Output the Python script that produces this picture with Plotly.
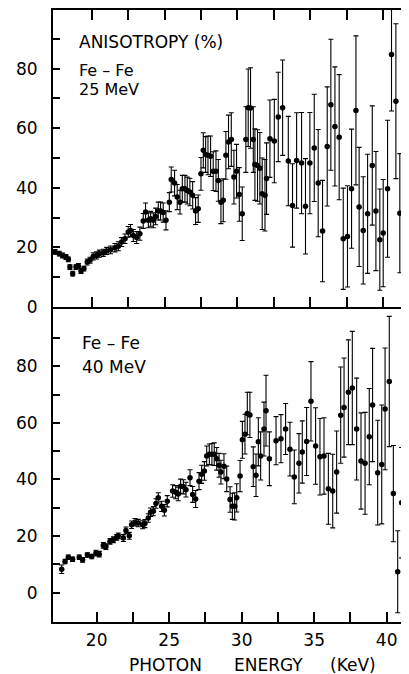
import plotly.graph_objects as go

# Fe-Fe 25 MeV : photon energy (keV), anisotropy (%), error
kev_25 = [17.49, 17.78, 18.01, 18.24, 18.40, 18.51, 18.70, 18.93, 19.09, 19.27,
          19.47, 19.70, 19.89, 20.11, 20.34, 20.53, 20.80, 21.03, 21.30, 21.60,
          21.83, 22.06, 22.29, 22.51, 22.67, 22.86, 23.09, 23.31, 23.54, 23.70,
          23.89, 24.05, 24.23, 24.39, 24.57, 24.73, 24.91, 25.10, 25.33, 25.46,
          25.69, 25.87, 26.06, 26.22, 26.40, 26.56, 26.74, 26.93, 27.13, 27.31,
          27.50, 27.66, 27.82, 27.98, 28.16, 28.34, 28.53, 28.69, 28.87, 29.03,
          29.21, 29.39, 29.58, 29.76, 29.94, 30.13, 30.33, 30.58, 30.74, 30.90,
          31.09, 31.20, 31.38, 31.54, 31.70, 31.89, 32.00, 32.23, 32.53, 32.80,
          33.10, 33.49, 33.78, 34.06, 34.40, 34.67, 34.97, 35.27, 35.54, 35.84,
          36.16, 36.41, 36.69, 36.98, 37.26, 37.55, 37.83, 38.13, 38.35, 38.63,
          38.93, 39.25, 39.50, 39.77, 40.00, 40.30, 40.57, 40.87, 41.14, 41.44,
          41.67]
aniso_25 = [18.5, 17.9, 17.3, 16.8, 16.0, 13.4, 11.2, 13.4, 13.8, 12.1,
            12.9, 15.1, 15.7, 17.0, 17.3, 17.9, 18.2, 18.8, 19.2, 19.9,
            20.4, 21.8, 22.9, 25.2, 25.7, 24.0, 23.3, 24.6, 28.9, 31.9,
            29.1, 29.6, 29.1, 30.4, 32.2, 32.2, 31.7, 29.1, 35.2, 42.8,
            41.6, 36.9, 35.2, 39.7, 39.7, 39.1, 38.6, 37.5, 32.2, 33.0,
            44.7, 52.6, 51.2, 50.9, 50.6, 45.6, 45.6, 42.5, 35.2, 35.8,
            50.9, 55.4, 56.2, 43.6, 45.6, 37.8, 31.3, 56.2, 66.9, 66.8,
            56.2, 47.8, 47.5, 46.6, 38.0, 37.5, 43.1, 56.5, 55.7, 63.8,
            66.9, 49.0, 34.1, 49.2, 48.3, 33.8, 48.3, 53.4, 41.6, 25.5,
            53.9, 67.9, 60.6, 57.0, 22.9, 23.7, 39.7, 66.0, 33.6, 25.7,
            31.3, 47.5, 32.2, 22.6, 24.8, 39.7, 84.8, 69.1, 31.5, 44.5,
            38.3]
err_25 = [0.8, 0.8, 0.8, 0.8, 0.8, 0.8, 0.8, 0.8, 0.8, 0.8,
          0.8, 1.0, 1.0, 1.2, 1.2, 1.2, 1.2, 1.2, 1.3, 1.4,
          1.5, 1.5, 1.6, 1.8, 2.0, 2.0, 2.0, 2.2, 2.5, 3.0,
          2.5, 2.5, 2.5, 2.8, 3.0, 3.0, 3.2, 3.2, 3.2, 4.2,
          4.3, 4.2, 4.0, 4.5, 4.5, 4.5, 4.6, 4.6, 4.5, 4.6,
          5.5, 5.9, 6.0, 6.5, 6.8, 6.5, 6.8, 7.0, 7.2, 7.2,
          8.0, 9.0, 9.0, 9.0, 9.0, 9.0, 9.0, 11, 13, 13.5,
          11, 12, 12, 12, 12, 12, 12, 13, 14, 15,
          16, 15, 14, 16, 17, 16, 17, 18, 18, 17,
          20, 22, 20, 21, 17, 17, 20, 25, 20, 18,
          20, 20, 20, 17, 18, 23, 19, 26, 20, 22.5,
          20]

# Fe-Fe 40 MeV
kev_40 = [17.59, 17.82, 18.05, 18.34, 18.80, 19.03, 19.36, 19.66, 19.95, 20.18,
          20.46, 20.64, 20.92, 21.15, 21.38, 21.49, 21.84, 22.02, 22.25, 22.41,
          22.64, 22.87, 23.17, 23.33, 23.56, 23.72, 23.91, 24.09, 24.25, 24.48,
          24.67, 24.87, 25.24, 25.45, 25.63, 25.79, 25.98, 26.16, 26.44, 26.62,
          26.83, 27.06, 27.24, 27.43, 27.59, 27.77, 27.95, 28.11, 28.28, 28.44,
          28.57, 28.78, 28.97, 29.20, 29.36, 29.52, 29.66, 29.89, 30.05, 30.23,
          30.39, 30.57, 30.80, 30.99, 31.15, 31.31, 31.54, 31.68, 31.91, 32.37,
          32.71, 33.03, 33.33, 33.63, 33.95, 34.18, 34.48, 34.78, 35.10, 35.40,
          35.68, 35.98, 36.28, 36.55, 36.83, 37.06, 37.36, 37.63, 37.93, 38.23,
          38.51, 38.80, 39.03, 39.38, 39.66, 39.89, 40.18, 40.46, 40.76, 41.03,
          41.26]
aniso_40 = [8.3, 11.0, 12.5, 11.8, 12.5, 11.6, 13.3, 12.8, 14.0, 13.6,
            16.7, 16.3, 18.1, 18.7, 19.5, 20.1, 19.3, 22.0, 20.1, 24.0,
            24.9, 24.6, 24.0, 24.4, 26.4, 28.4, 28.8, 31.5, 33.5, 30.5,
            29.1, 32.3, 35.9, 35.5, 34.9, 37.6, 37.4, 36.4, 40.6, 34.7,
            33.1, 39.4, 41.8, 43.0, 48.3, 48.9, 48.9, 48.9, 47.3, 45.0,
            42.6, 44.7, 40.2, 32.9, 30.5, 30.5, 33.5, 41.2, 54.0, 56.0,
            63.3, 62.8, 44.5, 41.5, 53.3, 48.3, 57.8, 64.3, 47.3, 53.7,
            54.4, 57.8, 50.7, 40.9, 45.7, 49.7, 53.4, 67.6, 51.8, 48.0,
            48.3, 36.7, 35.9, 42.6, 62.7, 65.4, 70.8, 72.3, 57.8, 46.5,
            45.7, 55.1, 66.3, 42.4, 45.3, 64.9, 74.6, 35.0, 7.4, 31.8,
            51.0]
err_40 = [1.5, 0.8, 0.8, 0.8, 0.8, 0.8, 0.8, 0.8, 1.0, 1.0,
          1.0, 1.0, 1.0, 1.0, 1.0, 1.0, 1.2, 1.2, 1.2, 1.3,
          1.3, 1.3, 1.4, 1.4, 1.5, 1.5, 1.6, 1.7, 1.8, 1.8,
          2.0, 2.0, 2.2, 2.3, 2.4, 2.5, 2.5, 2.6, 2.8, 2.8,
          3.0, 3.0, 3.2, 3.3, 3.5, 3.6, 3.8, 4.0, 4.0, 4.2,
          4.2, 4.4, 4.5, 4.5, 4.6, 4.8, 5.0, 5.5, 6.5, 7.0,
          7.5, 8.0, 7.0, 7.5, 8.5, 8.5, 9.5, 12.5, 9.5, 8.5,
          8.5, 9.0, 9.5, 9.5, 10.5, 11, 12, 14, 13.5, 13.5,
          13.5, 12.5, 13, 14.5, 17, 17.5, 18.5, 20, 18, 17,
          18, 17, 20, 18.5, 21, 21.5, 23, 17, 14.5, 19.5,
          21]

x_ticks = [20, 22.5, 25, 27.5, 30, 32.5, 35, 37.5, 40]
x_labels = ["20", "", "25", "", "30", "", "35", "", "40"]
y_ticks = [0, 10, 20, 30, 40, 50, 60, 70, 80, 90]
y_labels = ["0", "", "20", "", "40", "", "60", "", "80", ""]

FONT = "DejaVu Sans"
# the page puts the figure 8px in from the top-left corner of the window
OFF = 8
W, H = 409 - OFF, 674 - OFF
L, R, T, B = 53 - OFF, 0, 10 - OFF, 52

fig = go.Figure()

for kev, val, err, xa, ya in [(kev_25, aniso_25, err_25, "x", "y"),
                              (kev_40, aniso_40, err_40, "x2", "y2")]:
    fig.add_trace(go.Scatter(
        x=kev, y=val, mode="markers", xaxis=xa, yaxis=ya,
        marker=dict(size=5.5, color="black"),
        error_y=dict(type="data", array=err, color="black", thickness=1.1, width=2.5),
        showlegend=False, hoverinfo="x+y"
    ))

# empty traces so the right-hand tick axes get drawn
fig.add_trace(go.Scatter(x=[None], y=[None], xaxis="x", yaxis="y3", showlegend=False, hoverinfo="skip"))
fig.add_trace(go.Scatter(x=[None], y=[None], xaxis="x2", yaxis="y4", showlegend=False, hoverinfo="skip"))

plot_h = H - T - B


def px_x(px):
    return (px - OFF - L) / (W - L - R)


def px_y(py):
    return (H - B - (py - OFF)) / plot_h


top_dom = [px_y(307), 1.0]
low_dom = [0.0, px_y(309)]
yr_top = [0, 99.7]
yr_low = [-10.35, 100.2]

xcommon = dict(tickvals=x_ticks, ticktext=x_labels, ticks="inside", ticklen=10,
               tickwidth=2, tickcolor="black", showline=True, linewidth=2,
               linecolor="black", showgrid=False, zeroline=False, automargin=False,
               tickfont=dict(family=FONT, size=17, color="black"))
ycommon = dict(tickvals=y_ticks, ticktext=y_labels, ticks="inside", ticklen=7,
               tickwidth=2, tickcolor="black", showline=True, linewidth=2,
               linecolor="black", showgrid=False, zeroline=False, automargin=False,
               ticklabelstandoff=10,
               tickfont=dict(family=FONT, size=17, color="black"))
yright = dict(tickvals=y_ticks[1:], ticks="inside", ticklen=5, tickwidth=2,
              tickcolor="black", showline=False, showgrid=False, zeroline=False,
              showticklabels=False, side="right", automargin=False)

fig.update_layout(
    width=W, height=H,
    margin=dict(l=L, r=R, t=T, b=B),
    paper_bgcolor="white", plot_bgcolor="white",
    xaxis=dict(xcommon, anchor="y", range=[17.35, 41.77], mirror="ticks",
               showticklabels=False),
    yaxis=dict(ycommon, anchor="x", domain=top_dom, range=yr_top),
    xaxis2=dict(xcommon, anchor="y2", range=[16.99, 41.54], ticklabelstandoff=2),
    yaxis2=dict(ycommon, anchor="x2", domain=low_dom, range=yr_low),
    yaxis3=dict(yright, overlaying="y", anchor="x", range=yr_top),
    yaxis4=dict(yright, overlaying="y2", anchor="x2", range=yr_low),
)

labels = [
    ("ANISOTROPY (%)", 77, 42, "left", 17),
    ("Fe – Fe", 77, 71, "left", 16),
    ("25 MeV", 77, 90, "left", 16),
    ("Fe – Fe", 80, 343, "left", 17),
    ("40 MeV", 80, 367, "left", 17),
    ("PHOTON", 165, 665, "center", 17),
    ("ENERGY", 268, 665, "center", 17),
    ("(KeV)", 353, 665, "center", 17),
]
for text, x, y, anchor, size in labels:
    fig.add_annotation(text=text, xref="paper", yref="paper",
                       x=px_x(x), y=px_y(y), xanchor=anchor, yanchor="middle",
                       showarrow=False,
                       font=dict(family=FONT, size=size, color="black"))

fig.write_html("out.html")
